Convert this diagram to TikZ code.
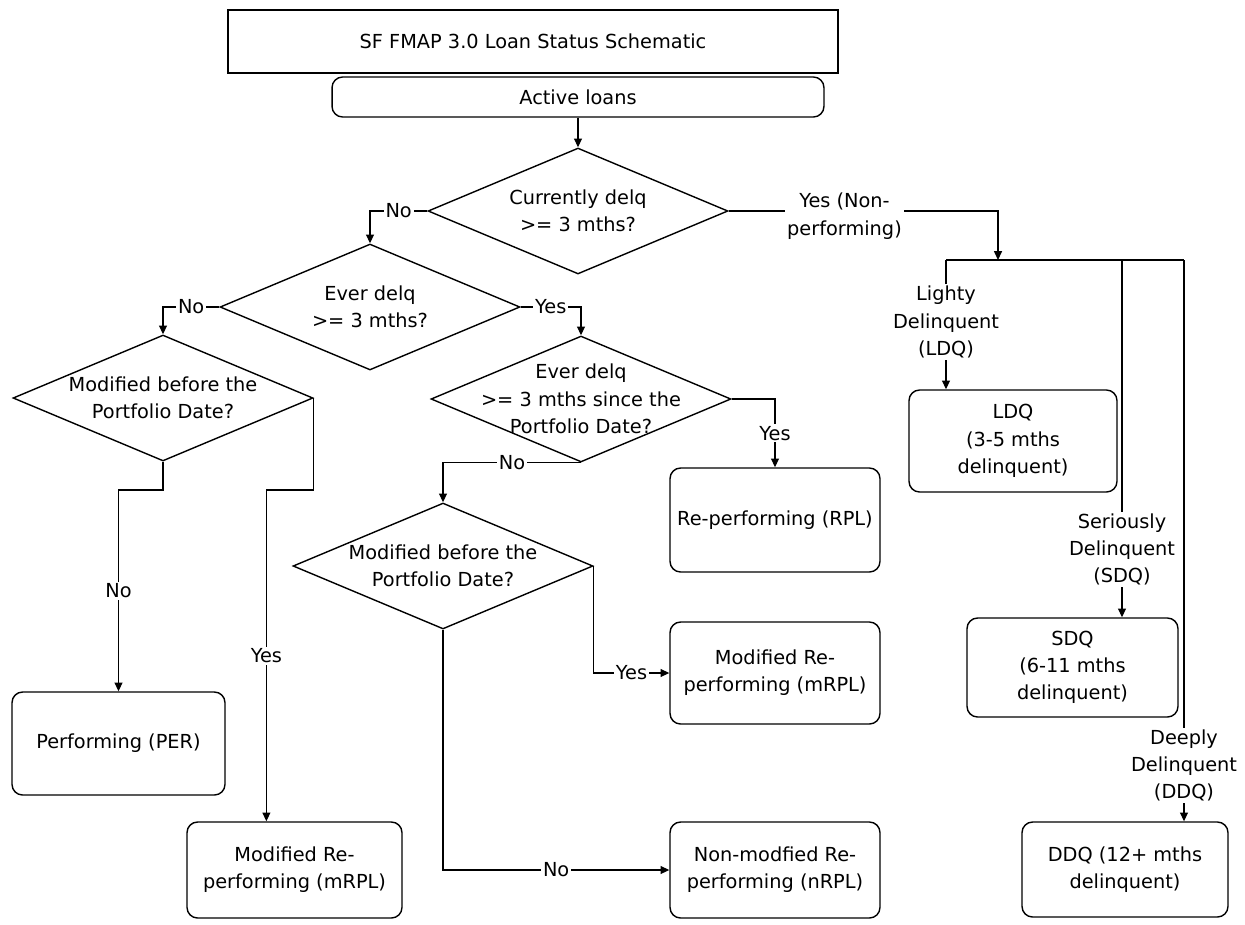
\documentclass[tikz,border=0pt]{standalone}
\usepackage{fontspec}
\setmainfont{DejaVu Sans}
\usetikzlibrary{shapes.geometric,arrows.meta}

\begin{document}
\begin{tikzpicture}[x=0.02cm,y=-0.02cm,font=\fontsize{11}{15.5}\selectfont,
	box/.style={draw,rounded corners=6pt,line width=0.8pt,align=center,inner sep=2pt},
	dec/.style={draw,diamond,line width=0.8pt,minimum width=6cm,minimum height=2.52cm,inner sep=0pt},
	qtext/.style={align=center},
	lbl/.style={fill=white,inner sep=1pt,align=center},
	arr/.style={line width=0.7pt,-{Triangle[length=5pt,width=4.5pt]}},
	ln/.style={line width=0.7pt}]
	\useasboundingbox (0,0) rectangle (1245,924);
	\node[draw,line width=1.4pt,minimum width=12.2cm,minimum height=1.26cm] (title) at (533,41.5) {SF FMAP 3.0 Loan Status Schematic};
	\node[box,minimum width=9.84cm,minimum height=0.8cm] (act) at (578,97) {Active loans};

	\node[dec,label={[qtext]center:Currently delq\\>= 3 mths?}] (d1) at (578,211) {};
	\node[dec,label={[qtext]center:Ever delq\\>= 3 mths?}] (d2) at (370,307) {};
	\node[dec,label={[qtext]center:Modified before the\\Portfolio Date?}] (d3) at (163,398) {};
	\node[dec,label={[qtext]center:Ever delq\\>= 3 mths since the\\Portfolio Date?}] (d4) at (581,399) {};
	\node[dec,label={[qtext]center:Modified before the\\Portfolio Date?}] (d5) at (443,566) {};

	\node[box,minimum width=4.26cm,minimum height=2.06cm] (per) at (118.5,743.5) {Performing (PER)};
	\node[box,minimum width=4.3cm,minimum height=1.92cm] (mrpla) at (294.5,870) {Modified Re-\\performing (mRPL)};
	\node[box,minimum width=4.2cm,minimum height=2.08cm] (rpl) at (775,520) {Re-performing (RPL)};
	\node[box,minimum width=4.2cm,minimum height=2.04cm] (mrplb) at (775,673) {Modified Re-\\performing (mRPL)};
	\node[box,minimum width=4.2cm,minimum height=1.92cm] (nrpl) at (775,870) {Non-modfied Re-\\performing (nRPL)};
	\node[box,minimum width=4.16cm,minimum height=2.04cm] (ldq) at (1013,441) {LDQ\\(3-5 mths\\delinquent)};
	\node[box,minimum width=4.22cm,minimum height=1.98cm] (sdq) at (1072.5,667.5) {SDQ\\(6-11 mths\\delinquent)};
	\node[box,minimum width=4.12cm,minimum height=1.9cm] (ddq) at (1125,869.5) {DDQ (12+ mths\\delinquent)};

	\coordinate (nb) at (998,260);
	\coordinate (b1) at (946,260);
	\coordinate (b2) at (1122,260);
	\coordinate (b3) at (1184,260);

	\draw[arr] (act.south) -- (d1.north);
	\draw[arr] (d1.west) -| node[lbl,pos=0.25]{No} (d2.north);
	\draw[arr] (d1.east) -| node[lbl,pos=0.215,yshift=-3pt]{Yes (Non-\\performing)} (nb);
	\draw[ln] (b1) -- (b3);
	\draw[arr] (b1) -- node[lbl,pos=0.48]{Lighty\\Delinquent\\(LDQ)} (b1 |- ldq.north);
	\draw[arr] (b2) -- node[lbl,pos=0.81]{Seriously\\Delinquent\\(SDQ)} (b2 |- sdq.north);
	\draw[arr] (b3) -- node[lbl,pos=0.9]{Deeply\\Delinquent\\(DDQ)} (b3 |- ddq.north);
	\draw[arr] (d2.west) -| node[lbl,pos=0.25]{No} (d3.north);
	\draw[arr] (d2.east) -| node[lbl,pos=0.25]{Yes} (d4.north);
	\draw[arr] (d3.south) -- (d3.south |- 0,490) -| node[lbl,pos=0.75]{No} (per.north);
	\draw[arr] (d3.east) -- (d3.east |- 0,490) -| node[lbl,pos=0.75]{Yes} ([xshift=-16pt]mrpla.north);
	\draw[arr] (d4.east) -| node[lbl,pos=0.75]{Yes} (rpl.north);
	\draw[arr] (d4.south) -| node[lbl,pos=0.25]{No} (d5.north);
	\draw[arr] (d5.east) |- node[lbl,pos=0.75]{Yes} (mrplb.west);
	\draw[arr] (d5.south) |- node[lbl,pos=0.75]{No} (nrpl.west);
\end{tikzpicture}
\end{document}
